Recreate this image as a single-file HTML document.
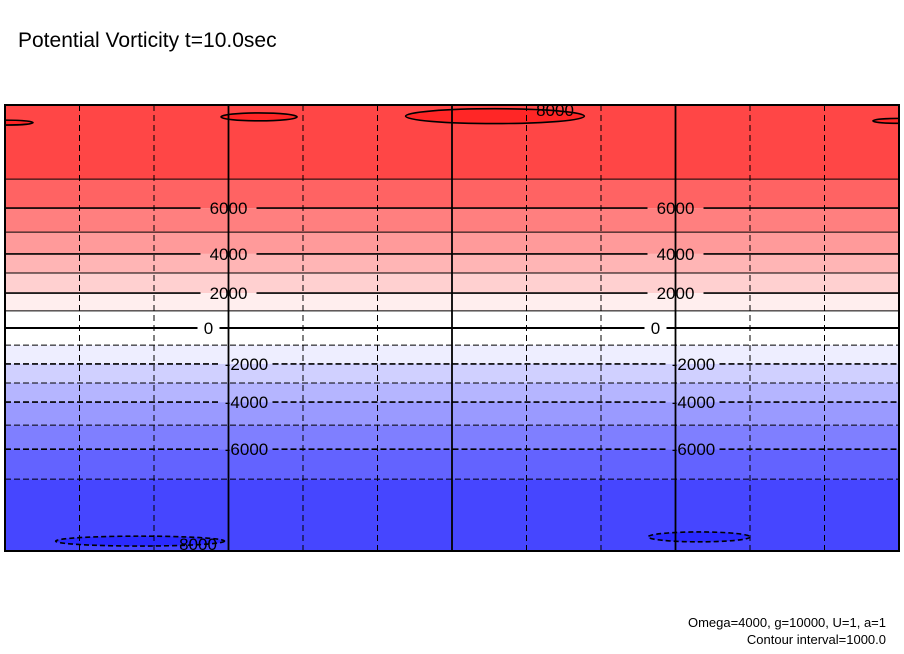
<!DOCTYPE html>
<html><head><meta charset="utf-8">
<style>
html,body{margin:0;padding:0;background:#fff;}
body{width:904px;height:654px;overflow:hidden;position:relative;font-family:"Liberation Sans",sans-serif;}
svg{position:absolute;left:0;top:0;}
</style></head>
<body>
<svg id="chart" width="904" height="654" xmlns="http://www.w3.org/2000/svg">
<text x="18" y="47" font-family="Liberation Sans, sans-serif" font-size="21" fill="#000">Potential Vorticity t=10.0sec</text>
<g id="fills"></g>
<g id="grid"></g>
<g id="contours"></g>
<g id="labels"></g>
<rect x="5" y="105" width="894" height="446" fill="none" stroke="#000" stroke-width="2"/>
<text x="886" y="627" text-anchor="end" font-family="Liberation Sans, sans-serif" font-size="13">Omega=4000, g=10000, U=1, a=1</text>
<text x="886" y="644" text-anchor="end" font-family="Liberation Sans, sans-serif" font-size="13">Contour interval=1000.0</text>
</svg>
<script>
// contour levels and the latitude (degrees) at which each crosses
const levels = [7000, 6000, 5000, 4000, 3000, 2000, 1000, 0, -1000, -2000, -3000, -4000, -5000, -6000, -7000];
const contourLat = [60.1, 48.4, 38.7, 29.9, 22.2, 14.1, 6.9, 0, -6.9, -14.5, -22.2, -29.9, -39.2, -48.9, -61.0];
const bandColors = ['#ff4646','#ff6363','#ff7f7f','#ff9a9a','#ffb5b5','#ffd0d0','#ffeeee','#ffffff','#ffffff','#eeeeff','#d0d0ff','#b5b5ff','#9a9aff','#7f7fff','#6363ff','#4646ff'];
const labelLevels = [6000, 4000, 2000, 0, -2000, -4000, -6000];
const gridLon = [-150,-120,-90,-60,-30,0,30,60,90,120,150];
const majorLon = [-90, 0, 90];
// closed ±8000 contours: centre lon, centre lat, half-width (deg lon), half-height (deg lat), level
const blobLon = [-77.7, 17.3, -180, 180, -125.6, 99.5];
const blobLat = [85.2, 85.5, 82.9, 83.6, -86.0, -84.3];
const blobHalfLon = [15.3, 36, 11.3, 10.5, 34, 20.5];
const blobHalfLat = [1.6, 3.0, 1.0, 1.0, 2.0, 2.0];
const blobLevel = [8000, 8000, 8000, 8000, -8000, -8000];

const X0=5, X1=899, Y0=105, Y1=551;
const xScale = lon => X0 + (lon + 180) / 360 * (X1 - X0);
const yScale = lat => Y0 + (90 - lat) / 180 * (Y1 - Y0);
const NS='http://www.w3.org/2000/svg';
function mk(tag, attrs, parent){const e=document.createElementNS(NS,tag);for(const k in attrs)e.setAttribute(k,attrs[k]);parent.appendChild(e);return e;}

const fills=document.getElementById('fills');
const bounds=[90].concat(contourLat).concat([-90]);
for(let i=0;i<bandColors.length;i++){
  const ya=yScale(bounds[i]), yb=yScale(bounds[i+1]);
  const r=mk('rect',{x:X0,y:ya,width:X1-X0,height:Math.max(0,yb-ya),fill:bandColors[i]},fills);
  
  
}
// closed contours (drawn under grid)
const cg=document.getElementById('contours');
const clip=mk('clipPath',{id:'plotclip'},document.getElementById('chart'));
mk('rect',{x:X0,y:Y0,width:X1-X0,height:Y1-Y0},clip);
blobLon.forEach((lon,i)=>{
  const e=mk('ellipse',{cx:xScale(lon),cy:yScale(blobLat[i]),rx:blobHalfLon[i]*(X1-X0)/360,ry:blobHalfLat[i]*(Y1-Y0)/180,fill:blobLevel[i]>0?'#ff2626':'#2a2aff',stroke:'#000','stroke-width':1.6,'stroke-dasharray':blobLevel[i]<0?'5,3':'none','clip-path':'url(#plotclip)'},fills);
  
  
});
const grid=document.getElementById('grid');
gridLon.forEach(lon=>{
  const major=majorLon.includes(lon);
  const l=mk('line',{x1:xScale(lon),x2:xScale(lon),y1:Y0,y2:Y1,stroke:'#000','stroke-width':major?1.8:1,'stroke-dasharray':major?'none':'6,4'},grid);
  
  
});
const lg=document.getElementById('labels');
const labelLon=[-90,90];
levels.forEach((v,i)=>{
  const y=yScale(contourLat[i]);
  const isLabel=labelLevels.includes(v);
  const dash=v<0?'6,3':'none';
  const sw=v===0?2:(isLabel?1.6:1);
  const segs=[];
  if(isLabel){
    const w=v===0?14:(v<0?44:48);
    const cx=v<0?18:0;
    let s=X0;
    labelLon.forEach(lon=>{const c=xScale(lon)+cx-(v===0?20:0);segs.push([s,c-w/2-4]);s=c+w/2+4;
      const t=mk('text',{x:c,y:y+6,'text-anchor':'middle','font-size':'17','font-family':'Liberation Sans, sans-serif'},lg);
      t.textContent=(v<0?'-':'')+Math.abs(v);
      
      
    });
    segs.push([s,X1]);
  } else segs.push([X0,X1]);
  segs.forEach(sg=>{
    const l=mk('line',{x1:sg[0],x2:sg[1],y1:y,y2:y,stroke:'#000','stroke-width':sw,'stroke-dasharray':dash},cg);
    
    
  });
});
[[555,116,'8000'],[198,550,'8000']].forEach(p=>{
  const t=mk('text',{x:p[0],y:p[1],'text-anchor':'middle','font-size':'17','font-family':'Liberation Sans, sans-serif'},lg);
  t.textContent=p[2];
  
  
});
</script>
</body></html>
